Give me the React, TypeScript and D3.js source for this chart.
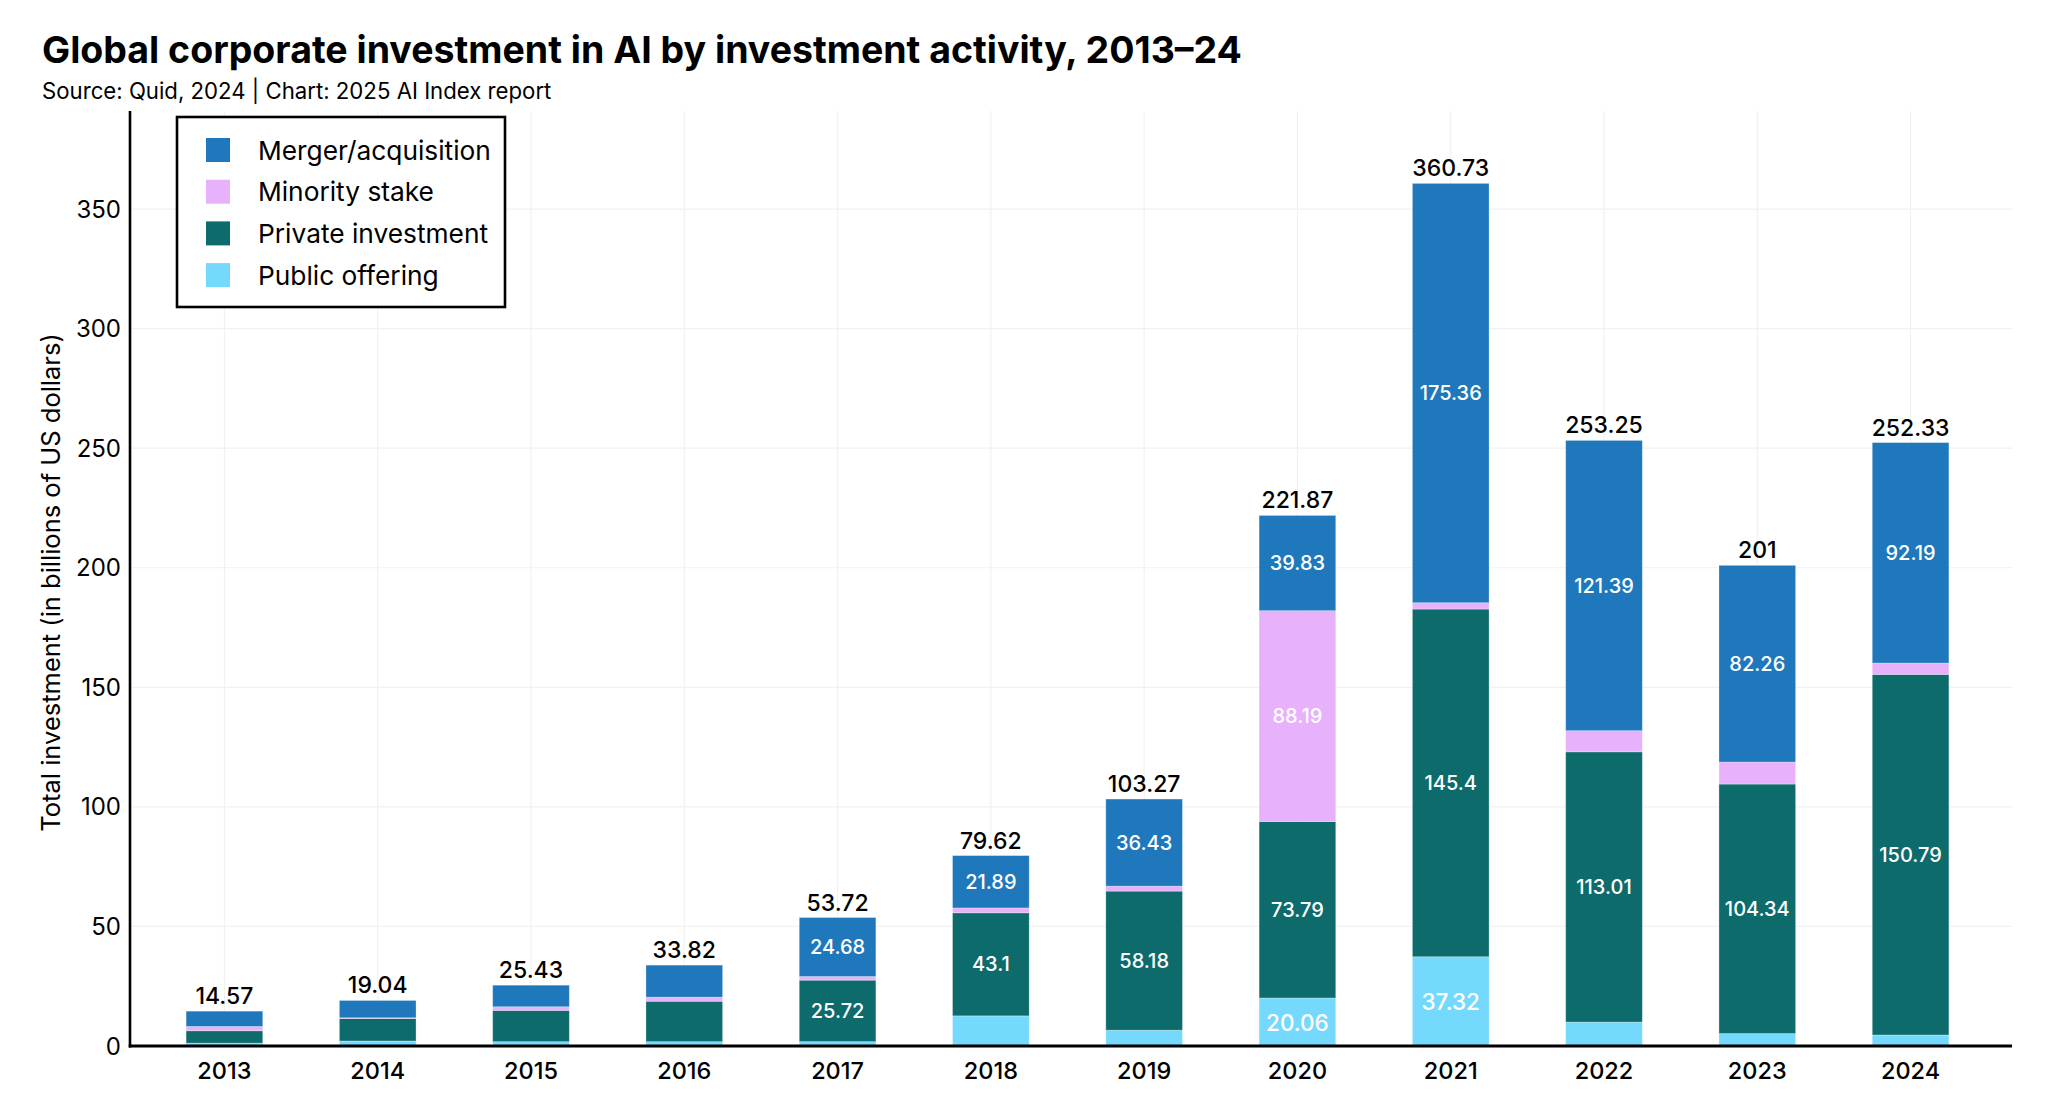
import { useEffect } from "react"
import { scaleBand, scaleLinear, stack } from "d3"

const years = ["2013", "2014", "2015", "2016", "2017", "2018", "2019", "2020", "2021", "2022", "2023", "2024"]
const mergerAcquisition = [6.4, 7.24, 9.03, 13.4, 24.68, 21.89, 36.43, 39.83, 175.36, 121.39, 82.26, 92.19]
const minorityStake = [1.8, 0.3, 1.5, 1.7, 1.5, 2.03, 2.06, 88.19, 2.65, 8.85, 9.2, 4.75]
const privateInvestment = [5.17, 9.4, 13.1, 16.92, 25.72, 43.1, 58.18, 73.79, 145.4, 113.01, 104.34, 150.79]
const publicOffering = [1.2, 2.1, 1.8, 1.8, 1.82, 12.6, 6.6, 20.06, 37.32, 10.0, 5.2, 4.6]
const totals = [14.57, 19.04, 25.43, 33.82, 53.72, 79.62, 103.27, 221.87, 360.73, 253.25, 201, 252.33]
const yTicks = [0, 50, 100, 150, 200, 250, 300, 350]

// stack order: bottom to top
const seriesKeys = ["Public offering", "Private investment", "Minority stake", "Merger/acquisition"]
const seriesValues: Record<string, number[]> = {
  "Public offering": publicOffering,
  "Private investment": privateInvestment,
  "Minority stake": minorityStake,
  "Merger/acquisition": mergerAcquisition,
}
const colors: Record<string, string> = {
  "Merger/acquisition": "#1f78bc",
  "Minority stake": "#e8b1fb",
  "Private investment": "#0e6b6c",
  "Public offering": "#74d9fd",
}
const legendKeys = ["Merger/acquisition", "Minority stake", "Private investment", "Public offering"]

const W = 2048
const H = 1120
const FONT = "Inter, 'Noto Sans', sans-serif"

export default function App() {
  useEffect(() => {
    document.body.style.margin = "0"
  }, [])

  const rows = years.map((y, i) => {
    const r: Record<string, any> = { year: y }
    seriesKeys.forEach((k) => (r[k] = seriesValues[k][i]))
    return r
  })
  const stacked = stack<any>().keys(seriesKeys)(rows)

  const x = scaleBand<string>()
    .domain(years)
    .range([130, 2005])
    .paddingInner(0.5)
    .paddingOuter(0.366)
  const y = scaleLinear().domain([0, 391]).range([1046, 111])

  const left = 130
  const right = 2012
  const cx = (yr: string) => x(yr)! + x.bandwidth() / 2

  return (
    <svg width={W} height={H} viewBox={`0 0 ${W} ${H}`} style={{ display: "block", background: "#fff" }} fontFamily={FONT}>
      {/* title */}
      <text x={42} y={63} fontSize={37.5} fontWeight={700} fill="#000">
        Global corporate investment in AI by investment activity, 2013–24
      </text>
      <text x={42} y={99} fontSize={22.2} fill="#000">
        Source: Quid, 2024 | Chart: 2025 AI Index report
      </text>

      {/* grid */}
      {yTicks.filter((t) => t > 0).map((t) => (
        <line key={t} x1={left} x2={right} y1={y(t)} y2={y(t)} stroke="#f1f1f1" strokeWidth={1.2} />
      ))}
      {years.map((yr) => (
        <line key={yr} x1={cx(yr)} x2={cx(yr)} y1={y(391)} y2={y(0)} stroke="#f1f1f1" strokeWidth={1.2} />
      ))}

      {/* bars */}
      {stacked.map((s) => (
        <g key={s.key} fill={colors[s.key]}>
          {s.map((d, i) => (
            <rect
              key={i}
              x={x(years[i])}
              width={x.bandwidth()}
              y={y(d[1])}
              height={Math.max(0, y(d[0]) - y(d[1]))}
              stroke="rgba(255,255,255,0.35)"
              strokeWidth={0.8}
            />
          ))}
        </g>
      ))}

      {/* segment labels */}
      {stacked.map((s) =>
        s.map((d, i) => {
          const v = seriesValues[s.key][i]
          if (v < 20) return null
          const big = s.key === "Public offering"
          return (
            <text
              key={s.key + i}
              x={cx(years[i])}
              y={(y(d[0]) + y(d[1])) / 2}
              textAnchor="middle"
              dominantBaseline="central"
              fontSize={big ? 22.5 : 20}
              fontWeight={500}
              fill="#fff"
            >
              {String(v)}
            </text>
          )
        })
      )}

      {/* totals */}
      {years.map((yr, i) => (
        <text key={yr} x={cx(yr)} y={y(totals[i]) - 7} textAnchor="middle" fontSize={23} fontWeight={500} fill="#000">
          {String(totals[i])}
        </text>
      ))}

      {/* axes */}
      <line x1={left} x2={left} y1={y(391)} y2={y(0) + 1.5} stroke="#000" strokeWidth={2.6} />
      <line x1={left - 1.3} x2={right} y1={y(0)} y2={y(0)} stroke="#000" strokeWidth={2.8} />

      {yTicks.map((t) => (
        <text key={t} x={121} y={y(t)} textAnchor="end" dominantBaseline="central" fontSize={24} fill="#000">
          {t}
        </text>
      ))}
      {years.map((yr) => (
        <text key={yr} x={cx(yr)} y={1079} textAnchor="middle" fontSize={23.5} fontWeight={500} fill="#000">
          {yr}
        </text>
      ))}

      <text transform={`translate(60,${(y(0) + y(391)) / 2 + 4}) rotate(-90)`} textAnchor="middle" fontSize={25.5} fill="#000">
        Total investment (in billions of US dollars)
      </text>

      {/* legend */}
      <rect x={177} y={117} width={328} height={190} fill="#fff" stroke="#000" strokeWidth={2.6} />
      {legendKeys.map((k, i) => (
        <g key={k} transform={`translate(206,${150 + i * 41.7})`}>
          <rect x={0} y={-12} width={24} height={24} fill={colors[k]} />
          <text x={52} y={0} dominantBaseline="central" fontSize={26.3} fill="#000">
            {k}
          </text>
        </g>
      ))}
    </svg>
  )
}
